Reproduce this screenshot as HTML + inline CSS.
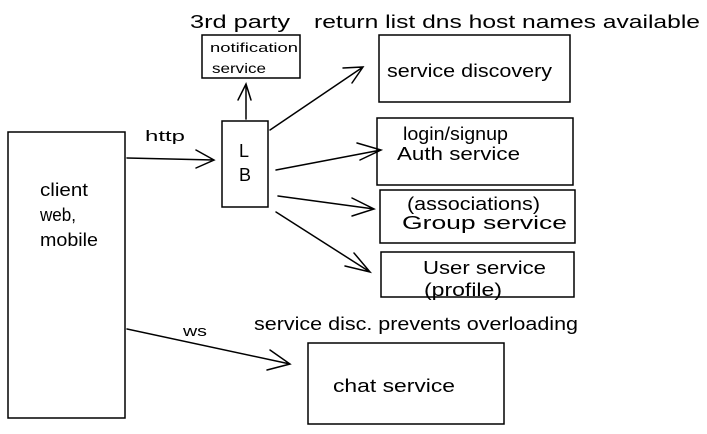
<!DOCTYPE html>
<html><head><meta charset="utf-8"><style>
html,body{margin:0;padding:0;background:#fff;}
svg{display:block}
text{font-family:"Liberation Sans",sans-serif;fill:#000;}
</style></head><body>
<svg width="707" height="434" viewBox="0 0 707 434" xmlns="http://www.w3.org/2000/svg">
<rect width="707" height="434" fill="#fff"/>
<g fill="none" stroke="#000" stroke-width="1.5" stroke-linecap="round">
<rect x="8" y="132" width="117" height="286"/>
<rect x="222" y="121" width="46" height="86"/>
<rect x="202" y="35" width="98" height="43"/>
<rect x="379" y="35" width="191" height="67"/>
<rect x="377" y="118" width="196" height="67"/>
<rect x="380" y="190" width="195" height="53"/>
<rect x="381" y="252" width="193" height="45"/>
<rect x="308" y="343" width="196" height="81"/>
<path d="M127 158 L214 160 M196 150 L214 160 L196 168"/>
<path d="M246 119 L246 84 M238 100 L246 84 L251 100"/>
<path d="M270 130 L363 67 M343 68 L363 67 L352 83"/>
<path d="M276 170 L381 150 M357 143 L381 150 L360 160"/>
<path d="M278 196 L374 209 M352 198 L374 209 L352 216"/>
<path d="M276 212 L370 272 M354 253 L370 272 L345 266"/>
<path d="M127 329 L290 364 M270 350 L290 364 L267 370"/>
</g>
<g font-size="18">
<text x="190" y="28" textLength="100" lengthAdjust="spacingAndGlyphs">3rd party</text>
<text x="314" y="28" textLength="386" lengthAdjust="spacingAndGlyphs">return list dns host names available</text>
<text x="210" y="52" font-size="13" textLength="88" lengthAdjust="spacingAndGlyphs">notification</text>
<text x="212" y="73" font-size="14" textLength="54" lengthAdjust="spacingAndGlyphs">service</text>
<text x="387" y="77" textLength="165" lengthAdjust="spacingAndGlyphs">service discovery</text>
<text x="403" y="140" textLength="105" lengthAdjust="spacingAndGlyphs">login/signup</text>
<text x="397" y="160" textLength="123" lengthAdjust="spacingAndGlyphs">Auth service</text>
<text x="407" y="210" textLength="133" lengthAdjust="spacingAndGlyphs">(associations)</text>
<text x="402" y="229" textLength="165" lengthAdjust="spacingAndGlyphs">Group service</text>
<text x="423" y="274" textLength="123" lengthAdjust="spacingAndGlyphs">User service</text>
<text x="424" y="296" textLength="78" lengthAdjust="spacingAndGlyphs">(profile)</text>
<text x="239" y="157">L</text>
<text x="239" y="181">B</text>
<text x="145" y="141" font-size="15" textLength="40" lengthAdjust="spacingAndGlyphs">http</text>
<text x="40" y="196" textLength="48" lengthAdjust="spacingAndGlyphs">client</text>
<text x="40" y="221" textLength="36" lengthAdjust="spacingAndGlyphs">web,</text>
<text x="40" y="246" textLength="58" lengthAdjust="spacingAndGlyphs">mobile</text>
<text x="183" y="336" font-size="15" textLength="24" lengthAdjust="spacingAndGlyphs">ws</text>
<text x="254" y="330" textLength="324" lengthAdjust="spacingAndGlyphs">service disc. prevents overloading</text>
<text x="333" y="392" textLength="122" lengthAdjust="spacingAndGlyphs">chat service</text>
</g>
</svg>
</body></html>
